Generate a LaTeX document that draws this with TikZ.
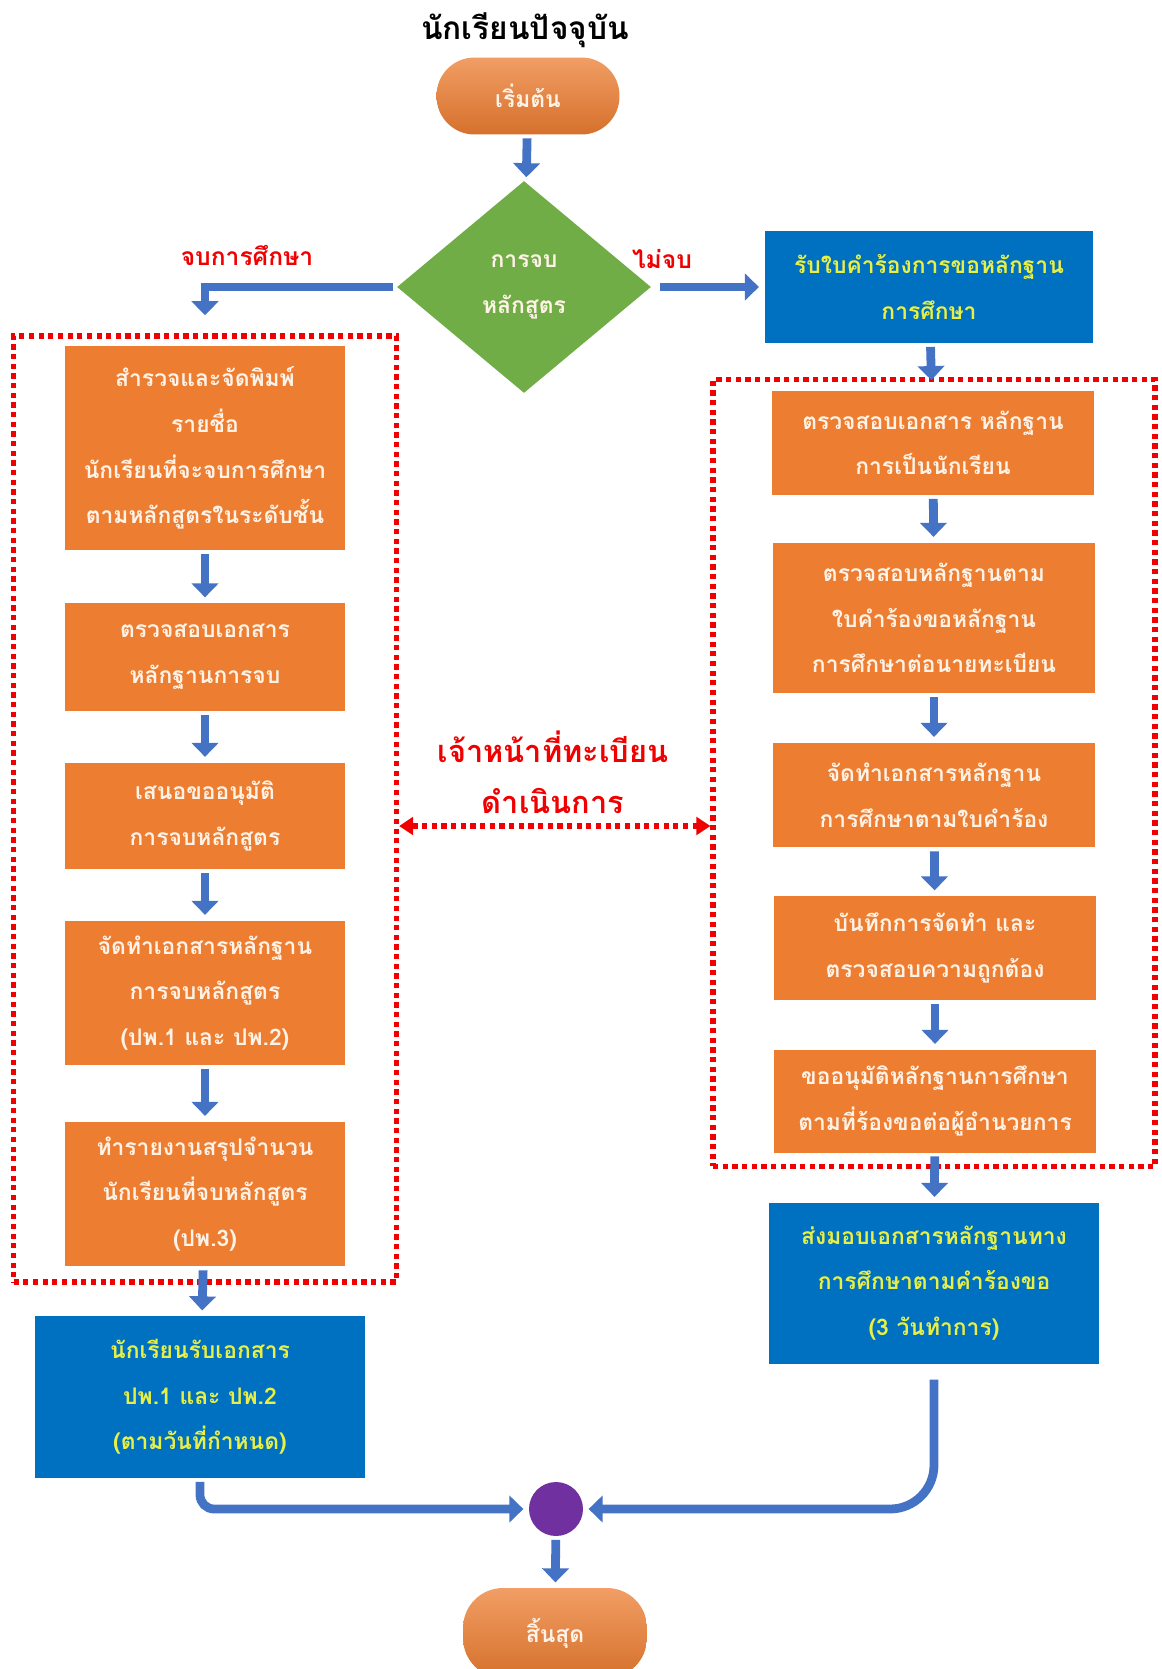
\documentclass[tikz,border=0pt]{standalone}
\usepackage{fontspec}
\setmainfont[Script=Thai]{Loma}
\usetikzlibrary{shapes.geometric,arrows.meta}

\definecolor{boxorange}{RGB}{237,125,49}
\definecolor{boxblue}{RGB}{0,112,192}
\definecolor{diagreen}{RGB}{112,173,71}
\definecolor{arrblue}{RGB}{68,114,196}
\definecolor{txtyellow}{RGB}{232,240,70}
\definecolor{txtcream}{RGB}{255,242,230}
\definecolor{dotpurple}{RGB}{112,48,160}
\definecolor{linered}{RGB}{240,0,0}

\begin{document}
\begin{tikzpicture}[x=0.02cm,y=-0.02cm,
	every node/.style={align=center,inner sep=2pt,font=\fontsize{13}{26}\selectfont\bfseries},
	orangebox/.style={fill=boxorange,text=txtcream,minimum width=5.6cm},
	bluebox/.style={fill=boxblue,text=txtyellow,minimum width=6.6cm},
	pill/.style={top color=boxorange!75!white,bottom color=boxorange!90!black,text=txtcream,minimum width=3.66cm,minimum height=1.54cm,rounded corners=0.76cm},
	frame/.style={draw=linered,line width=3pt,dash pattern=on 3pt off 2.5pt},
	redlabel/.style={text=linered,font=\fontsize{14}{26}\selectfont\bfseries},
	arr/.style={draw=arrblue,line width=5pt,-{Triangle[width=15pt,length=8pt]},shorten <=2pt,shorten >=3pt},
	redarr/.style={draw=linered,line width=3pt,dash pattern=on 3pt off 2.5pt,{Triangle[width=10pt,length=8pt]}-{Triangle[width=10pt,length=8pt]}}]
	\useasboundingbox (0,0) rectangle (1161,1669);
	% top
	\node[font=\fontsize{18}{24}\selectfont\bfseries] (title) at (525,30){นักเรียนปัจจุบัน};
	\node[pill] (start) at (528,96){เริ่มต้น};
	\node[diamond,fill=diagreen,text=txtcream,inner sep=0pt,minimum width=5.08cm,minimum height=4.24cm] (dia) at (524,287){การจบ\\หลักสูตร};
	\node[redlabel] (yes) at (247,255){จบการศึกษา};
	\node[redlabel] (no) at (662,259){ไม่จบ};
	\node[bluebox,minimum width=6.58cm,minimum height=2.24cm] (rq) at (929,287){รับใบคำร้องการขอหลักฐาน\\การศึกษา};
	% left column
	\node[frame,minimum width=7.66cm,minimum height=18.92cm] (lfr) at (205,809){};
	\node[orangebox,minimum height=4.1cm] (L1) at (205,448){สำรวจและจัดพิมพ์\\รายชื่อ\\นักเรียนที่จะจบการศึกษา\\ตามหลักสูตรในระดับชั้น};
	\node[orangebox,minimum height=2.16cm] (L2) at (205,657){ตรวจสอบเอกสาร\\หลักฐานการจบ};
	\node[orangebox,minimum height=2.14cm] (L3) at (205,816){เสนอขออนุมัติ\\การจบหลักสูตร};
	\node[orangebox,minimum height=2.9cm] (L4) at (205,993){จัดทำเอกสารหลักฐาน\\การจบหลักสูตร\\(ปพ.1 และ ปพ.2)};
	\node[orangebox,minimum height=2.9cm] (L5) at (205,1194){ทำรายงานสรุปจำนวน\\นักเรียนที่จบหลักสูตร\\(ปพ.3)};
	\node[bluebox,minimum height=3.24cm] (LB) at (200,1397){นักเรียนรับเอกสาร\\ปพ.1 และ ปพ.2\\(ตามวันที่กำหนด)};
	% right column
	\node[frame,minimum width=8.84cm,minimum height=15.74cm] (rfr) at (934,773){};
	\node[orangebox,minimum width=6.46cm,minimum height=2.08cm] (R1) at (933,443){ตรวจสอบเอกสาร หลักฐาน\\การเป็นนักเรียน};
	\node[orangebox,minimum width=6.46cm,minimum height=3.02cm] (R2) at (934,618){ตรวจสอบหลักฐานตาม\\ใบคำร้องขอหลักฐาน\\การศึกษาต่อนายทะเบียน};
	\node[orangebox,minimum width=6.46cm,minimum height=2.1cm] (R3) at (934,795){จัดทำเอกสารหลักฐาน\\การศึกษาตามใบคำร้อง};
	\node[orangebox,minimum width=6.46cm,minimum height=2.08cm] (R4) at (935,948){บันทึกการจัดทำ และ\\ตรวจสอบความถูกต้อง};
	\node[orangebox,minimum width=6.46cm,minimum height=2.06cm] (R5) at (935,1101){ขออนุมัติหลักฐานการศึกษา\\ตามที่ร้องขอต่อผู้อำนวยการ};
	\node[bluebox,minimum height=3.22cm] (RB) at (934,1283){ส่งมอบเอกสารหลักฐานทาง\\การศึกษาตามคำร้องขอ\\(3 วันทำการ)};
	% middle
	\node[redlabel,font=\fontsize{17.5}{29}\selectfont\bfseries] (staff) at (553,772){เจ้าหน้าที่ทะเบียน\\ดำเนินการ};
	\coordinate (mid) at (555,826);
	\node[circle,fill=dotpurple,minimum size=1.08cm,inner sep=0pt] (dot) at (556,1509){};
	\node[pill,minimum width=3.68cm,minimum height=1.8cm,rounded corners=0.8cm] (end) at (555,1633){สิ้นสุด};
	% arrows
	\draw[arr] (start)--(dia);
	\draw[arr,shorten >=17pt] (dia.west)-|(L1);
	\draw[arr,shorten <=5pt] (dia.east)--(rq);
	\draw[arr,shorten >=6pt] (rq)--(R1);
	\draw[arr] (L1)--(L2);
	\draw[arr] (L2)--(L3);
	\draw[arr] (L3)--(L4);
	\draw[arr] (L4)--(L5);
	\draw[arr] (L5)--(LB);
	\draw[arr] (R1)--(R2);
	\draw[arr] (R2)--(R3);
	\draw[arr] (R3)--(R4);
	\draw[arr] (R4)--(R5);
	\draw[arr] (R5)--(RB);
	\draw[redarr] (mid-|lfr.east)--(mid-|rfr.west);
	\draw[arr,rounded corners=8pt] (LB)|-(dot);
	\draw[arr,rounded corners=25pt,shorten <=9pt] (RB)|-(dot);
	\draw[arr] (dot)--(end);
\end{tikzpicture}
\end{document}
